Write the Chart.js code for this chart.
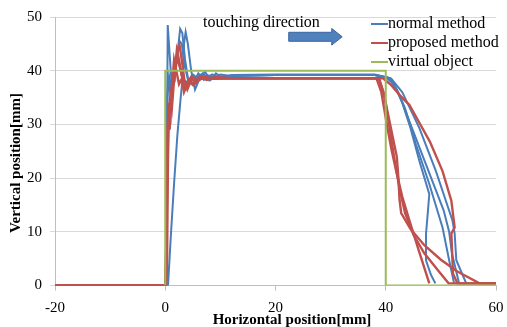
<!DOCTYPE html>
<html>
<head>
<meta charset="utf-8">
<script src="https://cdn.jsdelivr.net/npm/chart.js@4/dist/chart.umd.min.js"></script>
<style>
  html, body { margin: 0; padding: 0; background: #fff; }
  #wrap { width: 507px; height: 327px; position: relative; }
</style>
</head>
<body>
<div id="wrap"><canvas id="touchChart"></canvas></div>
<script>
// virtual object
const objectX = [0, 0, 40, 40, 60];
const objectY = [0, 40, 40, 0, 0];

// normal method trials
const normal1X = [-20, 0, 0.2, 0.3, 0.45, 0.8, 1.2, 1.7, 2.2, 2.7, 3.1, 3.6, 4.2, 5.0, 6.0, 7.0, 8.5, 10, 12, 20, 30, 38, 40, 41.5, 43, 44.5, 46.1, 47.9, 47.5, 47.3, 47.3, 48.2, 49];
const normal1Y = [0, 0, 0.3, 25, 48.5, 43, 37, 38, 43, 47.8, 47, 42, 38, 37.5, 39.5, 38.3, 39.3, 38.5, 39.0, 39.2, 39.2, 39.2, 38.8, 37.5, 34, 29.3, 23.2, 17, 12, 9.6, 4.7, 2, 0.4];
const normal2X = [-20, 0, 0.5, 1.0, 1.6, 2.2, 2.8, 3.2, 3.4, 3.7, 4.1, 4.7, 5.4, 6.2, 7.2, 8.2, 9.2, 10.5, 12, 20, 30, 38, 40.5, 42, 43.5, 45.5, 47.9, 50.3, 51.5, 52.4];
const normal2Y = [0, 0, 0, 9, 19, 28, 35, 39, 45, 47.2, 45, 40, 36.5, 38.5, 39.8, 38.3, 39.5, 38.6, 39.2, 39.3, 39.3, 39.3, 38.7, 36.5, 33, 26.2, 18.9, 10.8, 4.7, 0.4];
const normal3X = [-20, 0, 0.15, 0.25, 0.5, 0.9, 1.4, 2.0, 2.6, 3.0, 3.5, 4.2, 5.0, 5.8, 6.8, 8.0, 9.0, 10, 12, 20, 30, 38, 41, 43, 46.1, 49.1, 52.1, 52.5, 52.8, 54.6];
const normal3Y = [0, 0, 0, 30, 38.5, 36, 38, 42, 45.5, 45, 41, 38, 37.3, 38.8, 39.5, 38.2, 38.8, 39.3, 39.0, 39.2, 39.2, 39.2, 38.5, 36, 29.3, 21.3, 12.1, 9.7, 4.7, 0.4];
const normal4X = [-20, 0, 0.2, 0.35, 0.7, 1.1, 1.6, 2.1, 2.6, 3.2, 4.0, 5.0, 6.0, 7.5, 9, 12, 20, 30, 38, 40.8, 42.5, 44.5, 47.5, 50.5, 51.5, 52, 53.3];
const normal4Y = [0, 0, 0, 35, 39, 37, 39.5, 42, 41, 38.5, 37.8, 39.3, 38.5, 39.2, 38.8, 39.1, 39.2, 39.2, 39.2, 38.6, 35.5, 30, 22, 14, 10, 6, 0.4];

// proposed method trials
const proposed1X = [-20, 0, 0.2, 0.3, 0.5, 0.7, 0.9, 1.1, 1.4, 1.8, 2.2, 2.6, 3.0, 3.5, 4.0, 4.8, 5.6, 6.5, 7.5, 9, 12, 20, 30, 38.3, 39.2, 40.2, 41.0, 41.9, 43.0, 44.3, 46.0, 47.9];
const proposed1Y = [0, 0, 5, 20, 31, 33, 30, 36, 39, 41, 43.5, 44.7, 42, 38, 36.5, 38.5, 37.8, 39, 38.3, 38.7, 38.6, 38.6, 38.6, 38.6, 36, 30, 25.5, 21.3, 16.5, 12.1, 6.5, 0.4];
const proposed2X = [-20, 0, 0.25, 0.4, 0.6, 0.8, 1.0, 1.3, 1.6, 2.0, 2.5, 3.0, 3.4, 4.0, 4.8, 5.8, 7, 8.5, 12, 20, 30, 38.7, 39.6, 40.8, 42.0, 42.3, 42.5, 42.8, 44.5, 47, 50, 53, 57, 60];
const proposed2Y = [0, 0, 10, 28, 32, 29, 34, 38, 42, 40, 37.5, 38.5, 36, 37.5, 39, 38.2, 38.9, 38.5, 38.6, 38.6, 38.6, 38.6, 36, 30, 24, 20, 16, 13.5, 10.5, 7.5, 4.8, 2.6, 0.4, 0.4];
const proposed3X = [-20, 0, 0.3, 0.5, 0.7, 0.9, 1.2, 1.5, 1.8, 2.1, 2.5, 3.0, 3.6, 4.3, 5.2, 6.2, 7.5, 9, 12, 20, 30, 39.5, 41, 42.5, 44.3, 46, 48, 50.3, 51.9, 52.5, 51.9, 52.2, 53, 60];
const proposed3Y = [0, 0, 3, 24, 33, 35, 33, 37, 40.5, 43.8, 42, 39, 37, 38.3, 37.3, 38.8, 38.4, 38.8, 38.6, 38.6, 38.6, 38.6, 37.3, 35.5, 33.6, 30.5, 26.8, 21.3, 15.8, 10.8, 9.7, 2.2, 0.4, 0.4];
const proposed4X = [-20, 0, 0.2, 0.4, 0.6, 0.8, 1.0, 1.3, 1.7, 2.2, 2.8, 3.4, 4.0, 4.8, 5.8, 7, 9, 12, 20, 30, 38.8, 39.8, 40.6, 41.5, 42.5, 43.5, 45, 47, 49.5, 51.4, 60];
const proposed4Y = [0, 0, 8, 26, 34, 31, 35, 37.5, 40, 42.5, 40, 37.5, 37, 38.5, 38, 38.8, 38.5, 38.6, 38.6, 38.6, 38.6, 35, 30, 24, 18, 13.5, 9.5, 6, 2.8, 0.4, 0.4];

// axis ticks
const xTicks = [-20, 0, 20, 40, 60];
const yTicks = [0, 10, 20, 30, 40, 50];

const legendLabels = ['normal method', 'proposed method', 'virtual object'];
const blue = '#4a7ebb', red = '#c0504d', green = '#9bbb59';

const pts = (xs, ys) => xs.map((x, i) => ({ x: x, y: ys[i] }));
const line = (xs, ys, color, width, label) => ({
  label: label, data: pts(xs, ys), borderColor: color, backgroundColor: color,
  borderWidth: width, showLine: true, pointRadius: 0, tension: 0, fill: false
});

const datasets = [
  line(objectX, objectY, green, 2, 'virtual object'),
  line(proposed1X, proposed1Y, red, 2.4, 'proposed method'),
  line(proposed2X, proposed2Y, red, 2.4, 'proposed method'),
  line(proposed3X, proposed3Y, red, 2.4, 'proposed method'),
  line(proposed4X, proposed4Y, red, 2.4, 'proposed method'),
  line(normal1X, normal1Y, blue, 2, 'normal method'),
  line(normal2X, normal2Y, blue, 2, 'normal method'),
  line(normal3X, normal3Y, blue, 2, 'normal method'),
  line(normal4X, normal4Y, blue, 2, 'normal method')
];

const serif = "'Liberation Serif', 'DejaVu Serif', serif";

// titles, legend and the direction arrow
const decorations = {
  id: 'decorations',
  afterDraw(chart) {
    const ctx = chart.ctx;
    const xs = chart.scales.x, ys = chart.scales.y;
    ctx.save();
    ctx.fillStyle = '#000';

    // axis titles
    ctx.font = 'bold 15px ' + serif;
    ctx.textAlign = 'center';
    ctx.textBaseline = 'alphabetic';
    ctx.fillText('Horizontal position[mm]', 292, 324);
    ctx.save();
    ctx.translate(20, 163);
    ctx.rotate(-Math.PI / 2);
    ctx.fillText('Vertical position[mm]', 0, 0);
    ctx.restore();

    // legend
    const colors = [blue, red, green];
    ctx.font = '16px ' + serif;
    ctx.textAlign = 'left';
    ctx.textBaseline = 'middle';
    legendLabels.forEach((t, i) => {
      const y = 24 + i * 19;
      ctx.strokeStyle = colors[i];
      ctx.lineWidth = 2;
      ctx.beginPath();
      ctx.moveTo(371, y);
      ctx.lineTo(388, y);
      ctx.stroke();
      ctx.fillText(t, 388, y);
    });

    // annotation text
    ctx.fillText('touching direction', 203, 23);

    // arrow
    const x0 = xs.getPixelForValue(22.4);
    const xh = xs.getPixelForValue(30.2);
    const x1 = xs.getPixelForValue(32.1);
    const yc = ys.getPixelForValue(46.5) + 1;
    ctx.fillStyle = '#4f81bd';
    ctx.strokeStyle = '#3a67a0';
    ctx.lineWidth = 1;
    ctx.beginPath();
    ctx.moveTo(x0, yc - 4.5);
    ctx.lineTo(xh, yc - 4.5);
    ctx.lineTo(xh, yc - 8.3);
    ctx.lineTo(x1, yc);
    ctx.lineTo(xh, yc + 8.3);
    ctx.lineTo(xh, yc + 4.5);
    ctx.lineTo(x0, yc + 4.5);
    ctx.closePath();
    ctx.fill();
    ctx.stroke();
    ctx.restore();
  }
};

new Chart(document.getElementById('touchChart'), {
  type: 'scatter',
  data: { datasets: datasets },
  options: {
    responsive: true,
    maintainAspectRatio: false,
    animation: false,
    layout: { padding: { top: 14.5, right: 11, left: 0, bottom: 0 } },
    plugins: { legend: { display: false }, tooltip: { enabled: false } },
    scales: {
      x: {
        type: 'linear', min: -20, max: 60,
        afterBuildTicks: s => { s.ticks = xTicks.map(v => ({ value: v })); },
        afterFit: s => { s.height = 41.5; s.paddingLeft = 0; s.paddingRight = 0; },
        ticks: { color: '#000', font: { family: serif, size: 15 }, padding: 9, maxRotation: 0 },
        grid: { drawOnChartArea: false, drawTicks: true, tickLength: 5, color: '#bfbfbf' },
        border: { color: '#bfbfbf' }
      },
      y: {
        min: 0, max: 50,
        afterBuildTicks: s => { s.ticks = yTicks.map(v => ({ value: v })); },
        afterFit: s => { s.width = 55; },
        ticks: { color: '#000', font: { family: serif, size: 15 }, padding: 8 },
        grid: { color: '#d9d9d9', tickLength: 5 },
        border: { color: '#bfbfbf' }
      }
    }
  },
  plugins: [decorations]
});
</script>
</body>
</html>
